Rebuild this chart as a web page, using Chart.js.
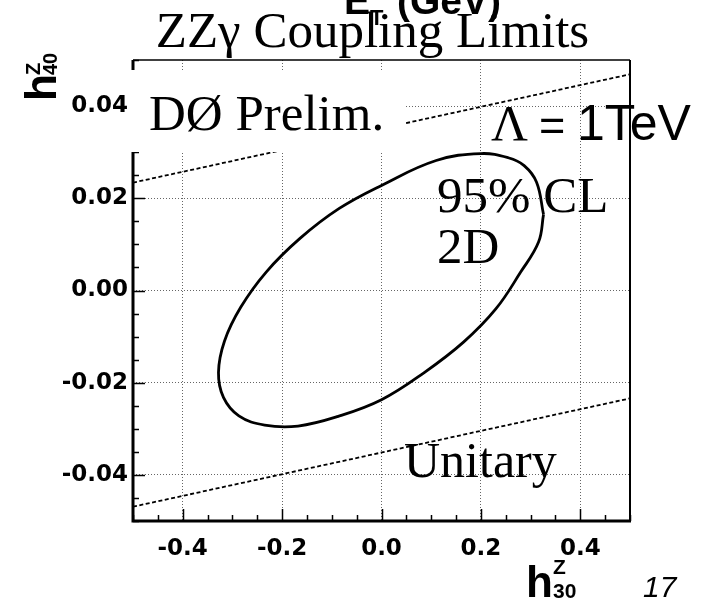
<!DOCTYPE html>
<html>
<head>
<meta charset="utf-8">
<title>ZZγ Coupling Limits</title>
<script src="https://cdn.jsdelivr.net/npm/chart.js@4.4.0/dist/chart.umd.min.js"></script>
<style>
  html, body { margin: 0; padding: 0; background: #fff; }
  #wrap { width: 709px; height: 601px; }
</style>
</head>
<body>
<div id="wrap"><canvas id="limits" width="709" height="601"></canvas></div>
<script>
// Axis ranges and tick labels
const xRange = [-0.5, 0.5];
const yRange = [-0.05, 0.05];
const xTicks = [-0.4, -0.2, 0.0, 0.2, 0.4];
const yTicks = [-0.04, -0.02, 0.0, 0.02, 0.04];

// 95% CL 2D contour, h30 vs h40 (closed loop)
const contourH30 = [0.326, 0.312, 0.287, 0.255, 0.200, 0.110, 0.000, -0.085,
  -0.164, -0.232, -0.283, -0.316, -0.328, -0.318, -0.287, -0.235,
  -0.168, -0.087, 0.000, 0.086, 0.165, 0.230, 0.280, 0.316, 0.326];
const contourH40 = [0.0165, 0.0235, 0.0271, 0.0288, 0.0297, 0.0282, 0.0228, 0.0178,
  0.0113, 0.0040, -0.0036, -0.0110, -0.0178, -0.0232, -0.0272, -0.0292,
  -0.0294, -0.0273, -0.0237, -0.0178, -0.0112, -0.0040, 0.0040, 0.0105, 0.0165];

// Unitarity bounds (end points)
const unitaryH30 = [-0.5, 0.5];
const unitaryUpperH40 = [0.0234, 0.0469];
const unitaryLowerH40 = [-0.0469, -0.0234];

const toPoints = (xs, ys) => xs.map((v, i) => ({ x: v, y: ys[i] }));

const SERIF = '"Liberation Serif", "Times New Roman", serif';
const SANS = '"Liberation Sans", Arial, sans-serif';

function text(ctx, str, x, y, font, align) {
  ctx.font = font;
  ctx.textAlign = align || 'left';
  ctx.textBaseline = 'alphabetic';
  ctx.fillText(str, x, y);
}

// Frame, inward ticks, pave box and labels
const decorations = {
  id: 'decorations',
  beforeDraw(chart) {
    const ctx = chart.ctx;
    ctx.save();
    ctx.fillStyle = '#fff';
    ctx.fillRect(0, 0, chart.width, chart.height);
    ctx.restore();
  },
  afterDatasetsDraw(chart) {
    const { ctx, chartArea: a, scales: { x, y } } = chart;
    ctx.save();
    ctx.strokeStyle = '#000';
    ctx.lineCap = 'butt';

    // tick marks pointing into the frame
    ctx.lineWidth = 1.5;
    ctx.beginPath();
    for (let i = 0; i <= 20; i++) {
      const v = xRange[0] + i * 0.05;
      const major = xTicks.some(t => Math.abs(t - v) < 1e-6);
      const px = Math.round(x.getPixelForValue(v)) + 0.5;
      ctx.moveTo(px, a.bottom);
      ctx.lineTo(px, a.bottom - (major ? 12 : 6));
    }
    for (let i = 0; i <= 20; i++) {
      const v = yRange[0] + i * 0.005;
      const major = yTicks.some(t => Math.abs(t - v) < 1e-6);
      const py = Math.round(y.getPixelForValue(v)) + 0.5;
      ctx.moveTo(a.left, py);
      ctx.lineTo(a.left + (major ? 12 : 6), py);
    }
    ctx.stroke();

    // frame
    ctx.lineWidth = 1.5;
    ctx.beginPath();
    ctx.moveTo(a.left, a.top);
    ctx.lineTo(a.right, a.top);
    ctx.stroke();
    ctx.lineWidth = 2;
    ctx.beginPath();
    ctx.moveTo(a.right, a.top);
    ctx.lineTo(a.right, a.bottom);
    ctx.stroke();
    ctx.lineWidth = 3;
    ctx.beginPath();
    ctx.moveTo(a.left, a.top);
    ctx.lineTo(a.left, a.bottom);
    ctx.lineTo(a.right + 1, a.bottom);
    ctx.stroke();

    // white pave behind the preliminary label
    ctx.fillStyle = '#fff';
    ctx.fillRect(130, 70, 276, 82);

    ctx.fillStyle = '#000';

    // E_T (GeV), mostly off the top edge
    text(ctx, 'E', 344, 14, 'bold 39px ' + SANS);
    text(ctx, 'T', 370, 25, 'bold 22px ' + SANS);
    text(ctx, '(GeV)', 397, 14, 'bold 39px ' + SANS);

    text(ctx, 'ZZγ Coupling Limits', 372.5, 47, '51px ' + SERIF, 'center');
    text(ctx, 'DØ Prelim.', 149, 130, '51px ' + SERIF);
    text(ctx, 'Λ', 491, 140, '51px ' + SERIF);
    text(ctx, '=', 539, 140, '45px ' + SANS);
    text(ctx, '1TeV', 577, 140, '50px ' + SANS);
    text(ctx, '95% CL', 437, 212, '51px ' + SERIF);
    text(ctx, '2D', 437, 263, '51px ' + SERIF);
    text(ctx, 'Unitary', 404, 477, '50px ' + SERIF);

    // axis titles
    text(ctx, 'h', 526, 597, 'bold 44px ' + SANS);
    text(ctx, 'Z', 553, 574, 'bold 21px ' + SANS);
    text(ctx, '30', 553, 598, 'bold 21px ' + SANS);

    ctx.save();
    ctx.translate(56, 101);
    ctx.rotate(-Math.PI / 2);
    text(ctx, 'h', 0, 0, 'bold 44px ' + SANS);
    text(ctx, 'Z', 26, -16, 'bold 20px ' + SANS);
    text(ctx, '40', 26, 1, 'bold 20px ' + SANS);
    ctx.restore();

    text(ctx, '17', 643, 597, 'italic 30px ' + SANS);
    ctx.restore();
  }
};

const tickFont = { family: 'DejaVu Sans', weight: 'bold', size: 23 };

new Chart(document.getElementById('limits'), {
  type: 'scatter',
  data: {
    datasets: [
      {
        data: toPoints(contourH30, contourH40),
        showLine: true,
        borderColor: '#000',
        borderWidth: 2.8,
        pointRadius: 0,
        tension: 0.4,
        fill: false
      },
      {
        data: toPoints(unitaryH30, unitaryUpperH40),
        showLine: true,
        borderColor: '#000',
        borderWidth: 1.8,
        borderDash: [4, 2.5],
        pointRadius: 0
      },
      {
        data: toPoints(unitaryH30, unitaryLowerH40),
        showLine: true,
        borderColor: '#000',
        borderWidth: 1.8,
        borderDash: [4, 2.5],
        pointRadius: 0
      }
    ]
  },
  options: {
    responsive: false,
    devicePixelRatio: 1,
    animation: false,
    layout: { padding: { left: 0, right: 79, top: 60, bottom: 0 } },
    plugins: {
      legend: { display: false },
      tooltip: { enabled: false }
    },
    scales: {
      x: {
        type: 'linear',
        min: xRange[0],
        max: xRange[1],
        afterBuildTicks: s => { s.ticks = xTicks.map(v => ({ value: v })); },
        afterFit: s => { s.height = 80; },
        grid: { color: '#666', lineWidth: 1, drawTicks: false },
        border: { display: false, dash: [1, 2] },
        ticks: {
          color: '#000',
          font: tickFont,
          padding: 14,
          maxRotation: 0,
          autoSkip: false,
          callback: v => v.toFixed(1)
        }
      },
      y: {
        type: 'linear',
        min: yRange[0],
        max: yRange[1],
        afterBuildTicks: s => { s.ticks = yTicks.map(v => ({ value: v })); },
        afterFit: s => { s.width = 133; },
        grid: { color: '#666', lineWidth: 1, drawTicks: false },
        border: { display: false, dash: [1, 2] },
        ticks: {
          color: '#000',
          font: tickFont,
          padding: 5,
          autoSkip: false,
          callback: v => v.toFixed(2)
        }
      }
    }
  },
  plugins: [decorations]
});
</script>
</body>
</html>
